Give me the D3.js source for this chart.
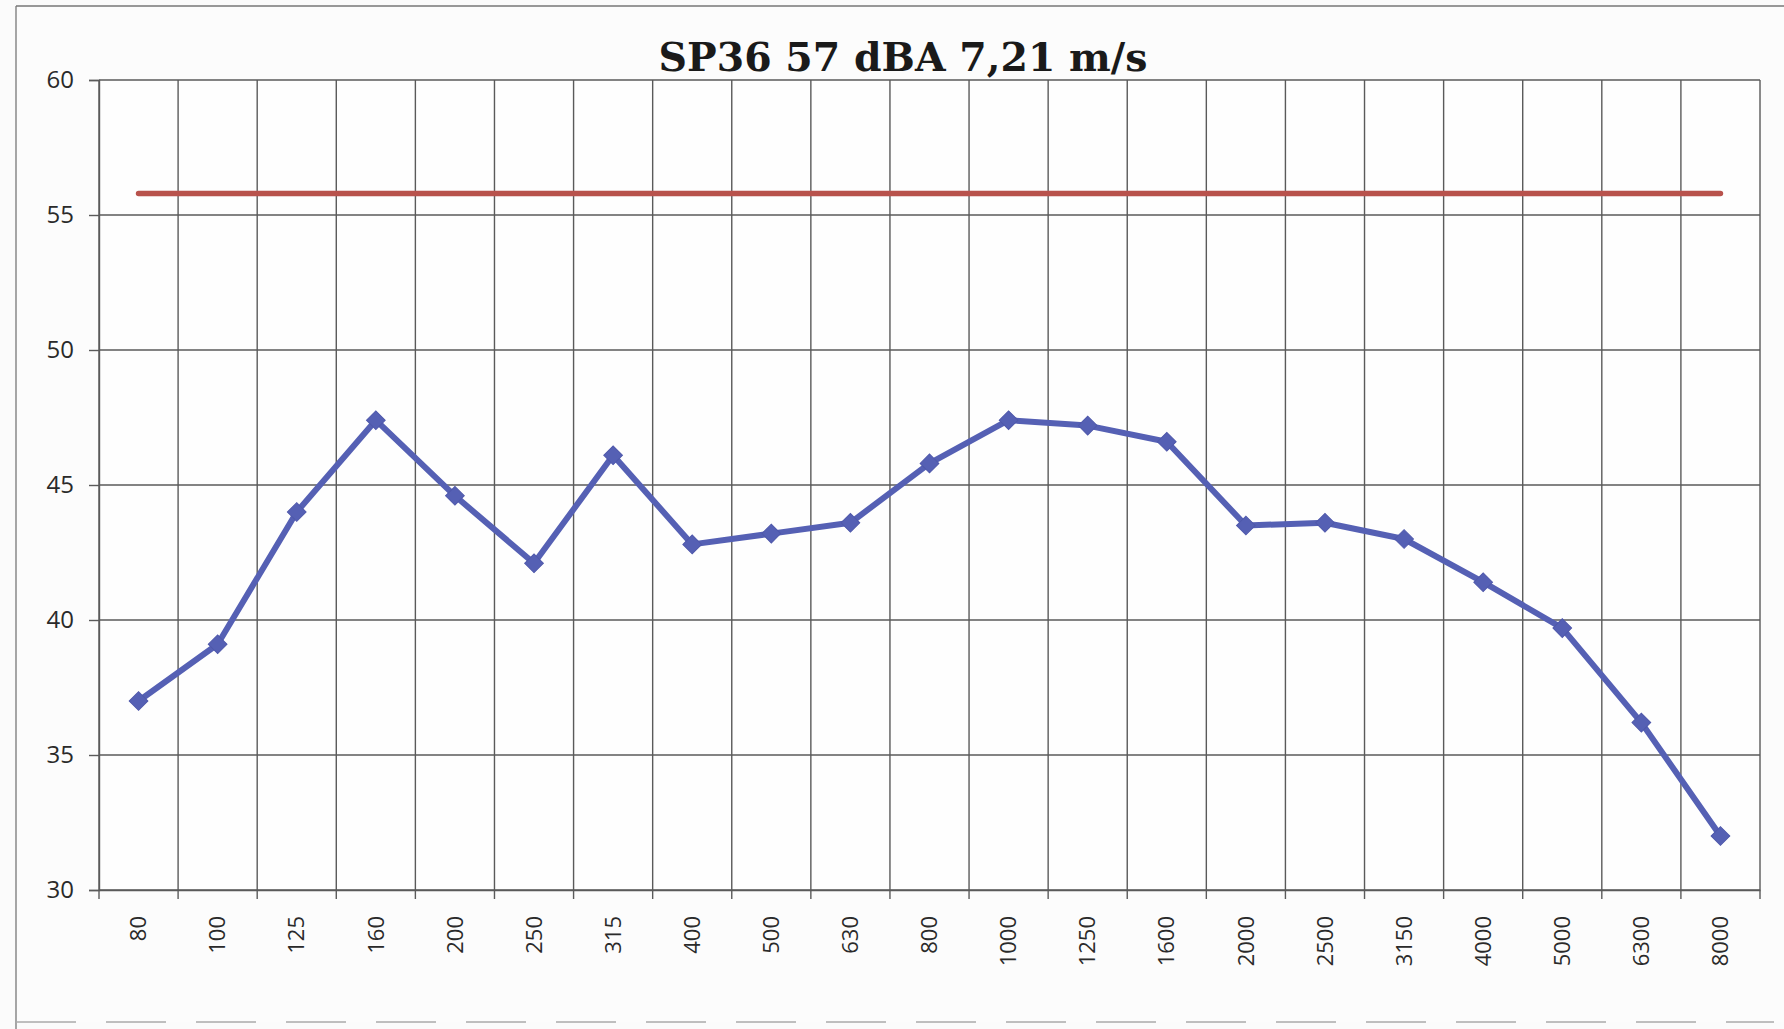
<!DOCTYPE html>
<html>
<head>
<meta charset="utf-8">
<script src="https://cdn.jsdelivr.net/npm/d3@7"></script>
<style>
  html, body { margin: 0; padding: 0; background: #fbfbfb; }
  svg { display: block; }
</style>
</head>
<body>
<script>
const title = "SP36 57 dBA 7,21 m/s";
const categories = ["80","100","125","160","200","250","315","400","500","630","800","1000","1250","1600","2000","2500","3150","4000","5000","6300","8000"];
const measured = [37.0,39.1,44.0,47.4,44.6,42.1,46.1,42.8,43.2,43.6,45.8,47.4,47.2,46.6,43.5,43.6,43.0,41.4,39.7,36.2,32.0];
const limitValue = 55.8;
const limit = categories.map(() => limitValue);
const yTicks = [30,35,40,45,50,55,60];

const W = 1784, H = 1029;
const m = {left: 99, right: 1760, top: 80, bottom: 890};

const svg = d3.select("body").append("svg").attr("width", W).attr("height", H);

// outer chart frame (scanned: left, top, faint bottom)
svg.append("rect").attr("x", 16).attr("y", 6).attr("width", 1790).attr("height", 1016).attr("fill", "#fcfcfc");
svg.append("line").attr("x1", 16).attr("x2", 16).attr("y1", 6).attr("y2", 1029).attr("stroke", "#777").attr("stroke-width", 1.3);
svg.append("line").attr("x1", 16).attr("x2", W).attr("y1", 6).attr("y2", 6).attr("stroke", "#777").attr("stroke-width", 1.3);
svg.append("line").attr("x1", 16).attr("x2", W - 10).attr("y1", 1022).attr("y2", 1022)
  .attr("stroke", "#aaa").attr("stroke-width", 1.3).attr("stroke-dasharray", "60 30");

const x = d3.scaleBand().domain(categories).range([m.left, m.right]).paddingInner(0).paddingOuter(0);
const y = d3.scaleLinear().domain([30, 60]).range([m.bottom, m.top]);

// plot area background
svg.append("rect").attr("x", m.left).attr("y", m.top)
  .attr("width", m.right - m.left).attr("height", m.bottom - m.top).attr("fill", "#fefefe");

// horizontal gridlines
svg.append("g").selectAll("line").data(yTicks).join("line")
  .attr("x1", m.left).attr("x2", m.right)
  .attr("y1", d => y(d)).attr("y2", d => y(d))
  .attr("stroke", "#5a5a5a").attr("stroke-width", 1.4);

// vertical gridlines at category boundaries
const bounds = categories.map(c => x(c)).concat([m.right]);
svg.append("g").selectAll("line").data(bounds).join("line")
  .attr("x1", d => d).attr("x2", d => d)
  .attr("y1", m.top).attr("y2", m.bottom)
  .attr("stroke", "#5a5a5a").attr("stroke-width", 1.4);

// y axis
const yAxis = d3.axisLeft(y).tickValues(yTicks).tickSize(10).tickPadding(15).tickFormat(d3.format("d"));
const gy = svg.append("g").attr("transform", `translate(${m.left},0)`).call(yAxis);
gy.select(".domain").attr("stroke", "#5a5a5a").attr("stroke-width", 1.4);
gy.selectAll(".tick line").attr("stroke", "#5a5a5a").attr("stroke-width", 1.4);
gy.selectAll(".tick text").attr("font-family", "'Open Sans', sans-serif").attr("font-size", 24).attr("fill", "#2a2a2a");

// x axis
const xAxis = d3.axisBottom(x).tickSize(0).tickPadding(0);
const gx = svg.append("g").attr("transform", `translate(0,${m.bottom})`).call(xAxis);
gx.select(".domain").attr("stroke", "#5a5a5a").attr("stroke-width", 1.4);
gx.selectAll(".tick text")
  .attr("font-family", "'Open Sans', sans-serif").attr("font-size", 22).attr("fill", "#2a2a2a")
  .attr("text-anchor", "end").attr("dy", "0.35em").attr("x", -26).attr("y", 0)
  .attr("transform", "rotate(-90)");
// x tick marks at boundaries
svg.append("g").selectAll("line").data(bounds).join("line")
  .attr("x1", d => d).attr("x2", d => d)
  .attr("y1", m.bottom).attr("y2", m.bottom + 9)
  .attr("stroke", "#5a5a5a").attr("stroke-width", 1.4);

const cx = c => x(c) + x.bandwidth() / 2;

// limit line (red)
const line = d3.line().x((d, i) => cx(categories[i])).y(d => y(d));
svg.append("path").datum(limit).attr("d", line)
  .attr("fill", "none").attr("stroke", "#b8524c").attr("stroke-width", 5.5).attr("stroke-linecap", "round");

// measured line (blue)
svg.append("path").datum(measured).attr("d", line)
  .attr("fill", "none").attr("stroke", "#5560b4").attr("stroke-width", 6).attr("stroke-linejoin", "round");

const diamond = d3.symbol().type(d3.symbolSquare).size(175);
svg.append("g").selectAll("path").data(measured).join("path")
  .attr("d", diamond)
  .attr("transform", (d, i) => `translate(${cx(categories[i])},${y(d)}) rotate(45)`)
  .attr("fill", "#5560b4").attr("stroke", "#4f58ab").attr("stroke-width", 1);

// title
svg.append("text").attr("x", 903).attr("y", 71).attr("text-anchor", "middle")
  .attr("font-family", "'DejaVu Serif', serif").attr("font-weight", "bold")
  .attr("font-size", 39).attr("fill", "#1a1a1a")
  .attr("textLength", 489).attr("lengthAdjust", "spacingAndGlyphs").text(title);
</script>
</body>
</html>
